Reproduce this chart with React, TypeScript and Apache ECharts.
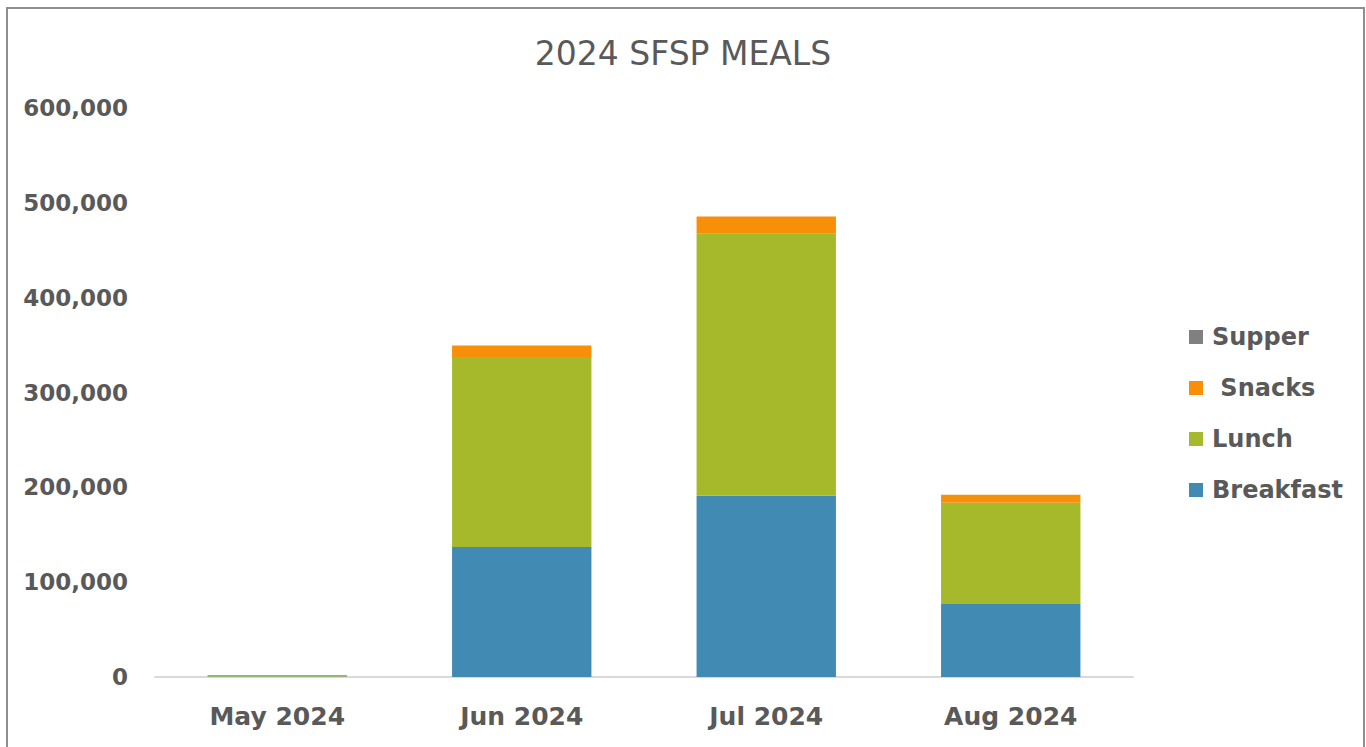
import React, { useEffect, useRef } from "react";
import * as echarts from "echarts";

const categories = ["May 2024", "Jun 2024", "Jul 2024", "Aug 2024"];
const breakfast = [500, 137000, 191000, 77000];
const lunch = [1500, 200500, 277000, 106800];
const snacks = [0, 12000, 17700, 8500];
const supper = [0, 0, 0, 0];
const seriesNames = ["Breakfast", "Lunch", " Snacks", "Supper"];
const legendOrder = ["Supper", " Snacks", "Lunch", "Breakfast"];
const colors = ["#418AB3", "#A5B92A", "#F79008", "#808080"];

export default function App() {
  const ref = useRef<HTMLDivElement>(null);
  useEffect(() => {
    if (!ref.current) return;
    const chart = echarts.init(ref.current, null, { renderer: "svg" });
    const font = "'DejaVu Sans', sans-serif";
    const values = [breakfast, lunch, snacks, supper];
    chart.setOption({
      animation: false,
      backgroundColor: "#ffffff",
      title: {
        text: "2024 SFSP MEALS",
        left: "center",
        top: 32,
        textStyle: { fontFamily: font, fontSize: 33, fontWeight: "normal", color: "#595959" },
      },
      graphic: [
        {
          type: "rect",
          shape: { x: 7, y: 8, width: 1357, height: 760 },
          style: { fill: "none", stroke: "#8f8f8f", lineWidth: 2 },
          silent: true,
        },
      ],
      legend: {
        orient: "vertical",
        left: 1184,
        top: 320,
        itemWidth: 14,
        itemHeight: 14,
        itemGap: 27,
        icon: "rect",
        data: legendOrder,
        textStyle: {
          fontFamily: font,
          fontSize: 24,
          fontWeight: "bold",
          color: "#595959",
          lineHeight: 24,
          padding: [0, 0, 0, 4],
        },
      },
      grid: { left: 155, right: 233, top: 108, bottom: 70, containLabel: false },
      xAxis: {
        type: "category",
        data: categories,
        axisLine: { lineStyle: { color: "#d9d9d9", width: 2 } },
        axisTick: { show: false },
        axisLabel: { fontFamily: font, fontSize: 25, fontWeight: "bold", color: "#595959", margin: 27 },
      },
      yAxis: {
        type: "value",
        min: 0,
        max: 600000,
        interval: 100000,
        splitLine: { show: false },
        axisLine: { show: false },
        axisTick: { show: false },
        axisLabel: {
          fontFamily: font,
          fontSize: 23,
          fontWeight: "bold",
          color: "#595959",
          margin: 27,
          formatter: (v: number) => v.toLocaleString("en-US"),
        },
      },
      series: seriesNames.map((name, i) => ({
        name,
        type: "bar",
        stack: "total",
        barWidth: "57%",
        data: values[i],
        itemStyle: { color: colors[i] },
      })),
    });
    return () => chart.dispose();
  }, []);
  return <div ref={ref} style={{ position: "fixed", left: 0, top: 0, width: 1366, height: 747 }} />;
}
